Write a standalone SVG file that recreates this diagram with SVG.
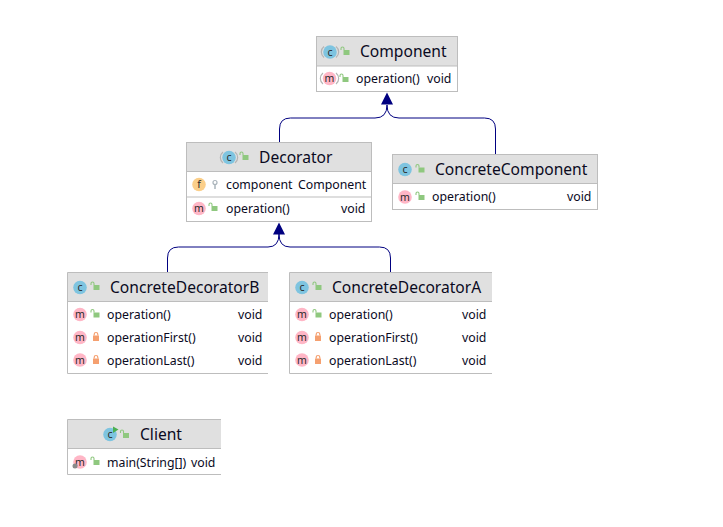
<svg xmlns="http://www.w3.org/2000/svg" width="723" height="527" viewBox="0 0 723 527">
<style>
text{font-family:"Noto Sans","Open Sans","Liberation Sans",sans-serif;fill:#0a0a1e}
.t{font-size:15.6px}
.r{font-size:12.3px}
.hd{fill:#e0e0e0}
.bd{fill:none;stroke:#bdbdbd;stroke-width:1}
.ln{stroke:#bdbdbd;stroke-width:1}
.cc{fill:#7ec4e0}
.cm{fill:#ffb6c6}
.cf{fill:#fbcf8a}
.gh{fill:none;stroke:#b4b4b4;stroke-width:1.2}
.il{font-size:10.5px;text-anchor:middle;fill:#2a2a2a}
.con{fill:none;stroke:#000080;stroke-width:1}
.lk{fill:#8fc87f}
.lko{fill:none;stroke:#8fc87f;stroke-width:1.1}
.lr{fill:#f5a070}
.lro{fill:none;stroke:#f5a070;stroke-width:1.2}
</style>
<defs>
<g id="open"><rect x="0.500" y="2" width="6" height="5" class="lk"/><path d="M-2 2V0.500A1.500 1.500 0 0 1 1 0.500V2" class="lko"/></g>
<g id="priv"><rect x="-3" y="0" width="6" height="5.500" class="lr"/><path d="M-1.800 0V-1.200A1.800 1.800 0 0 1 1.800 -1.200V0" class="lro"/></g>
<g id="ic"><circle r="6.800" class="cc"/><text y="3.500" class="il">c</text></g>
<g id="im"><circle r="6.800" class="cm"/><text y="3.500" class="il">m</text></g>
</defs>
<g id="connectors">
<path class="con" d="M279.500 142V129Q279.500 118 290.500 118H375Q387 118 387 105"/>
<path class="con" d="M495.500 154V129Q495.500 118 484.500 118H399Q387 118 387 105"/>
<path class="con" d="M167.500 272V258Q167.500 247 178.500 247H268Q279 247 279 234"/>
<path class="con" d="M390.500 272V258Q390.500 247 379.500 247H290Q279 247 279 234"/>
<path d="M387 92.500L381 104.500H393Z" fill="#000080"/>
<path d="M279 222.500L273 234.500H285Z" fill="#000080"/>
</g>
<g id="Component">
<rect x="316.500" y="36.500" width="141" height="29.500" class="hd"/>
<rect x="316.500" y="36.500" width="141" height="55" class="bd"/>
<path d="M316.500 66H457.500" class="ln"/>
<path d="M324 46.500A7 7 0 0 0 324 57.500M336 46.500A7 7 0 0 1 336 57.500" class="gh"/>
<use href="#ic" x="330" y="52"/>
<use href="#open" x="343" y="48"/>
<text x="360" y="57" class="t">Component</text>
<circle cx="329.500" cy="78.500" r="6.800" class="cm"/>
<path d="M323 73A7 7 0 0 0 323 84M336 73A7 7 0 0 1 336 84" class="gh"/>
<text x="329.500" y="82" class="il">m</text>
<use href="#open" x="342" y="75"/>
<text x="356" y="83" class="r">operation()</text>
<text x="427" y="83" class="r">void</text>
</g>
<g id="Decorator">
<rect x="186.500" y="142.500" width="185" height="29" class="hd"/>
<rect x="186.500" y="142.500" width="185" height="79" class="bd"/>
<path d="M186.500 171.500H371.500M186.500 197H371.500" class="ln"/>
<path d="M223 152A7 7 0 0 0 223 163M235 152A7 7 0 0 1 235 163" class="gh"/>
<use href="#ic" x="229" y="157.500"/>
<use href="#open" x="242" y="153"/>
<text x="259" y="163" class="t">Decorator</text>
<circle cx="199" cy="184.500" r="6.800" class="cf"/>
<text x="199" y="188" class="il">f</text>
<circle cx="215" cy="182.500" r="2" fill="none" stroke="#aab4bb" stroke-width="1.200"/>
<path d="M215 184.500V189" stroke="#aab4bb" stroke-width="1.500"/>
<text x="226" y="189" class="r">component</text>
<text x="298" y="189" class="r">Component</text>
<use href="#im" x="199" y="208.500"/>
<use href="#open" x="211" y="204"/>
<text x="226" y="213" class="r">operation()</text>
<text x="341" y="213" class="r">void</text>
</g>
<g id="ConcreteComponent">
<rect x="392.500" y="154.500" width="205" height="29" class="hd"/>
<rect x="392.500" y="154.500" width="205" height="55" class="bd"/>
<path d="M392.500 183.500H597.500" class="ln"/>
<use href="#ic" x="405" y="169.500"/>
<use href="#open" x="418" y="165.500"/>
<text x="435" y="175" class="t">ConcreteComponent</text>
<use href="#im" x="405" y="197"/>
<use href="#open" x="418" y="193"/>
<text x="432" y="201" class="r">operation()</text>
<text x="567" y="201" class="r">void</text>
</g>
<g id="ConcreteDecoratorB">
<rect x="67.500" y="272.500" width="200.500" height="29" class="hd"/>
<path d="M268 272.500H67.500V373.500H268M67.500 301.500H268" class="bd"/>
<use href="#ic" x="80" y="287.500"/>
<use href="#open" x="93" y="283"/>
<text x="110" y="293" class="t">ConcreteDecoratorB</text>
<use href="#im" x="80" y="314.500"/>
<use href="#open" x="93" y="310.500"/>
<text x="107" y="319" class="r">operation()</text>
<text x="238" y="319" class="r">void</text>
<use href="#im" x="80" y="337.500"/>
<use href="#priv" x="96" y="335.500"/>
<text x="107" y="342" class="r">operationFirst()</text>
<text x="238" y="342" class="r">void</text>
<use href="#im" x="80" y="360"/>
<use href="#priv" x="96" y="358.500"/>
<text x="107" y="365" class="r">operationLast()</text>
<text x="238" y="365" class="r">void</text>
</g>
<g id="ConcreteDecoratorA">
<rect x="289.500" y="272.500" width="202.500" height="29" class="hd"/>
<path d="M492 272.500H289.500V373.500H492M289.500 301.500H492" class="bd"/>
<use href="#ic" x="302" y="287.500"/>
<use href="#open" x="315" y="283"/>
<text x="332" y="293" class="t">ConcreteDecoratorA</text>
<use href="#im" x="302" y="314.500"/>
<use href="#open" x="315" y="310.500"/>
<text x="329" y="319" class="r">operation()</text>
<text x="462" y="319" class="r">void</text>
<use href="#im" x="302" y="337.500"/>
<use href="#priv" x="318" y="335.500"/>
<text x="329" y="342" class="r">operationFirst()</text>
<text x="462" y="342" class="r">void</text>
<use href="#im" x="302" y="360"/>
<use href="#priv" x="318" y="358.500"/>
<text x="329" y="365" class="r">operationLast()</text>
<text x="462" y="365" class="r">void</text>
</g>
<g id="Client">
<rect x="67.500" y="419.500" width="153.500" height="29" class="hd"/>
<path d="M221 419.500H67.500V474.500H221M67.500 448.500H221" class="bd"/>
<use href="#ic" x="110" y="434.500"/>
<path d="M113 426.500L118.500 429.500L113 433Z" fill="#4caf50"/>
<use href="#open" x="122.500" y="431"/>
<text x="140" y="440" class="t">Client</text>
<use href="#im" x="80" y="462"/>
<circle cx="75" cy="466" r="2.500" fill="#8a8a8a"/>
<use href="#open" x="93" y="458"/>
<text x="107" y="467" class="r">main(String[])</text>
<text x="191" y="467" class="r">void</text>
</g>
</svg>
